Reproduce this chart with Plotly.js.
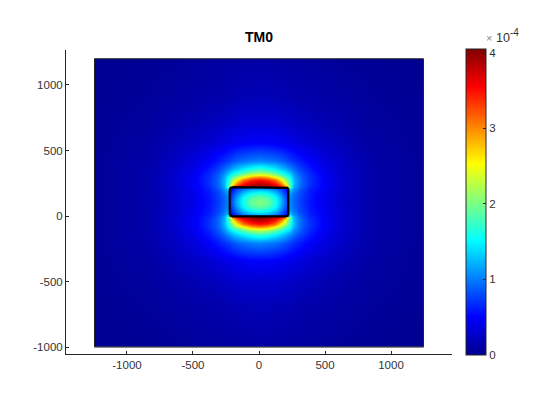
<!DOCTYPE html>
<html><head><meta charset="utf-8">
<script src="https://cdn.plot.ly/plotly-3.0.1.min.js"></script>
<style>html,body{margin:0;padding:0;background:#fff}</style></head>
<body><div id="chart" style="width:560px;height:420px"></div>
<script>
// Field magnitude in units of 1e-4. The picture is mirror-symmetric
// about x = 0 and about y = 108, so one quadrant is tabulated.
const xQuadrant = [0,60,120,170,200,218,226,260,310,380,500,650,850,1240,1245];
const yUp = [108,138,168,198,214,224,248,273,298,323,358,418,558,708,908,1194,1198];
const yDown = [78,48,18,2,-8,-32,-57,-82,-107,-142,-202,-342,-492,-692,-994,-998];
const quadrant = [
[2.05,1.95,1.60,1.20,0.90,0.72,1.05,0.92,0.75,0.58,0.41,0.25,0.12,0.04,0.04],
[1.95,1.85,1.55,1.15,0.85,0.70,1.07,0.93,0.76,0.59,0.41,0.25,0.12,0.04,0.04],
[1.70,1.60,1.35,1.00,0.75,0.60,1.15,0.97,0.78,0.60,0.42,0.26,0.12,0.04,0.04],
[1.30,1.25,1.05,0.80,0.60,0.48,1.35,1.06,0.83,0.63,0.43,0.26,0.12,0.04,0.04],
[1.00,0.95,0.85,0.65,0.50,0.38,1.65,1.15,0.87,0.65,0.44,0.27,0.12,0.04,0.04],
[4.05,4.00,3.85,3.50,3.10,2.60,2.00,1.20,0.90,0.67,0.45,0.27,0.12,0.04,0.04],
[3.85,3.75,3.50,3.05,2.50,2.10,1.90,1.25,0.92,0.69,0.45,0.27,0.12,0.04,0.04],
[3.50,3.40,3.10,2.55,2.15,1.90,1.75,1.25,0.92,0.70,0.45,0.27,0.12,0.04,0.04],
[3.00,2.85,2.50,2.10,1.85,1.70,1.60,1.20,0.90,0.69,0.45,0.27,0.12,0.04,0.04],
[2.30,2.20,1.95,1.70,1.55,1.45,1.40,1.10,0.86,0.66,0.43,0.26,0.12,0.04,0.04],
[1.70,1.60,1.45,1.30,1.20,1.12,1.08,0.93,0.76,0.60,0.40,0.25,0.12,0.04,0.04],
[1.03,1.00,0.95,0.88,0.82,0.78,0.76,0.69,0.60,0.49,0.35,0.23,0.11,0.04,0.04],
[0.50,0.49,0.47,0.45,0.43,0.42,0.41,0.38,0.35,0.30,0.24,0.17,0.09,0.03,0.03],
[0.30,0.30,0.29,0.28,0.27,0.26,0.26,0.24,0.22,0.20,0.16,0.12,0.07,0.03,0.03],
[0.18,0.18,0.17,0.16,0.16,0.15,0.15,0.14,0.13,0.12,0.10,0.08,0.05,0.02,0.02],
[0.10,0.10,0.09,0.09,0.08,0.08,0.08,0.08,0.07,0.07,0.06,0.04,0.03,0.01,0.01],
[0.10,0.10,0.09,0.09,0.08,0.08,0.08,0.08,0.07,0.07,0.06,0.04,0.03,0.01,0.01]
];
const rectX = [-200,200,215,222,222,215,200,-200,-215,-222,-222,-215,-200];
const rectY = [220,220,215,200,16,2,-3,-3,2,16,200,215,220];
const frameX = [-1246,1246,1246,-1246,-1246];
const frameY = [1200,1200,-1000,-1000,1200];
const cbTicks = [0,1,2,3,4];
const xTicks = [-1000,-500,0,500,1000];
const yTicks = [-1000,-500,0,500,1000];
const jet = [[0,'#00008f'],[0.125,'#0000ff'],[0.375,'#00ffff'],[0.625,'#ffff00'],[0.875,'#ff0000'],[1,'#800000']];

const x = xQuadrant.slice(1).reverse().map(v=>-v).concat(xQuadrant);
const mirrorRow = r => r.slice(1).reverse().concat(r);
const upper = quadrant.map(mirrorRow);
const lowerRows = [1,2,3,4,5,6,7,8,9,10,11,12,13,14,15,16];
const y = yDown.slice().reverse().concat(yUp);
const z = lowerRows.slice().reverse().map(i=>upper[i]).concat(upper);

const font = {family:'"Liberation Sans", Arial, sans-serif', size:11.5, color:'#333333'};
Plotly.newPlot('chart',[
 {type:'heatmap',x:x,y:y,z:z,zsmooth:'best',zmin:0,zmax:4.05,colorscale:jet,hoverinfo:'skip',
  colorbar:{x:1.0363,xanchor:'left',y:0.5,yanchor:'middle',lenmode:'pixels',len:306,thicknessmode:'pixels',thickness:20,
   xpad:0,ypad:0,outlinewidth:1,outlinecolor:'#262626',tickmode:'array',tickvals:cbTicks,ticktext:cbTicks.map(String),
   ticks:'inside',ticklen:3,tickcolor:'#262626',tickwidth:1,tickfont:font}},
 {type:'scatter',mode:'lines',x:frameX,y:frameY,line:{color:'#222222',width:1},hoverinfo:'skip',showlegend:false},
 {type:'scatter',mode:'lines',x:rectX,y:rectY,line:{color:'#000000',width:2.2},hoverinfo:'skip',showlegend:false}
],{
 width:560,height:420,margin:{l:66,r:108,t:50,b:66},paper_bgcolor:'#fff',plot_bgcolor:'#fff',showlegend:false,
 title:{text:'<b>TM0</b>',font:{family:font.family,size:14,color:'#000'},x:259/560,xanchor:'center',y:1-37/420,yanchor:'middle'},
 xaxis:{range:[-1462,1462],tickmode:'array',tickvals:xTicks,ticktext:xTicks.map(String),ticks:'inside',ticklen:3,tickcolor:'#262626',
  showgrid:false,zeroline:false,showline:true,linecolor:'#262626',linewidth:1,tickfont:font},
 yaxis:{range:[-1053,1267],tickmode:'array',tickvals:yTicks,ticktext:yTicks.map(String),ticks:'inside',ticklen:3,tickcolor:'#262626',
  showgrid:false,zeroline:false,showline:true,linecolor:'#262626',linewidth:1,tickfont:font},
 annotations:[
  {xref:'paper',yref:'paper',x:(484-66)/386,y:(354-38)/304,xanchor:'left',yanchor:'middle',showarrow:false,
   text:'×',font:{family:font.family,size:11,color:'#888888'}},
  {xref:'paper',yref:'paper',x:(494-66)/386,y:(354-38)/304,xanchor:'left',yanchor:'middle',showarrow:false,
   text:'10',font:{family:font.family,size:12.5,color:'#333333'}},
  {xref:'paper',yref:'paper',x:(508-66)/386,y:(354-33)/304,xanchor:'left',yanchor:'middle',showarrow:false,
   text:'-4',font:{family:font.family,size:10,color:'#333333'}}
 ]
},{displayModeBar:false,staticPlot:true});
</script></body></html>
